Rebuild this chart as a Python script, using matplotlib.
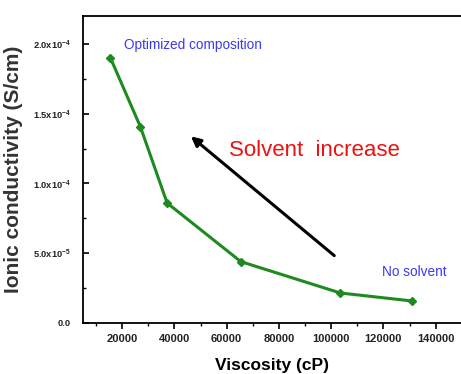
import matplotlib.pyplot as plt
from matplotlib.ticker import MultipleLocator, FuncFormatter

# Data
viscosity = [15500, 27000, 37200, 65400, 103500, 130800]
conductivity = [1.90e-4, 1.405e-4, 0.86e-4, 0.44e-4, 0.215e-4, 0.158e-4]

plt.rcParams['font.family'] = ['Liberation Sans', 'DejaVu Sans']
plt.rcParams['mathtext.fontset'] = 'custom'
plt.rcParams['mathtext.rm'] = 'Liberation Sans:bold'
plt.rcParams['mathtext.it'] = 'Liberation Sans:bold'
plt.rcParams['mathtext.bf'] = 'Liberation Sans:bold'

fig = plt.figure(figsize=(4.61, 3.74), dpi=100)
ax = fig.add_axes([0.180, 0.1364, 0.82, 0.8208])

ax.plot(viscosity, conductivity, color='#1f8a1f', lw=2.2, marker='D', ms=4.5)

ax.set_xlim(5000, 149700)
ax.set_ylim(0, 2.2e-4)
ax.spines['right'].set_visible(False)
for s in ['left', 'bottom', 'top']:
    ax.spines[s].set_linewidth(1.3)

ax.xaxis.set_major_locator(MultipleLocator(20000))
ax.xaxis.set_minor_locator(MultipleLocator(10000))
ax.yaxis.set_major_locator(MultipleLocator(5e-5))
ax.yaxis.set_minor_locator(MultipleLocator(2.5e-5))


def yfmt(v, pos):
    if v == 0:
        return '0.0'
    exp = int(f'{v:.1e}'.split('e')[1])
    mant = v / 10 ** exp
    return f'{mant:.1f}x10$^{{{exp}}}$'


ax.yaxis.set_major_formatter(FuncFormatter(yfmt))
ax.xaxis.set_major_formatter(FuncFormatter(lambda v, p: f'{int(v)}'))
ax.tick_params(axis='x', direction='out', length=4, width=1.2, labelsize=8, pad=4)
ax.tick_params(axis='x', which='minor', direction='out', length=2.5, width=1.0)
ax.tick_params(axis='y', direction='in', length=4, width=1.2, labelsize=6.7, pad=9)
ax.tick_params(axis='y', which='minor', direction='in', length=2.5, width=1.0)
ax.tick_params(top=False, right=False, which='both')
for lab in ax.get_xticklabels() + ax.get_yticklabels():
    lab.set_fontweight('bold')
    lab.set_color('#222222')

ax.set_xlabel('Viscosity (cP)', fontsize=12.5, fontweight='bold', labelpad=10)
ax.set_ylabel('Ionic conductivity (S/cm)', fontsize=15, fontweight='bold',
              color='#333333')
# the reference crops the left edge of this label a little
ax.yaxis.set_label_coords(-0.158, 0.5)

ax.text(20700, 1.99e-4, 'Optimized composition', color='#3a3af0', fontsize=9.8,
        va='center')
ax.text(119300, 0.366e-4, 'No solvent', color='#3a3af0', fontsize=9.8, va='center')
ax.text(60900, 1.235e-4, 'Solvent  increase', color='#ee1111', fontsize=16,
        va='center')
ax.annotate('', xy=(45500, 1.35e-4), xytext=(102000, 0.47e-4),
            arrowprops=dict(arrowstyle='-|>', color='black', lw=2.2, mutation_scale=14))

fig.savefig('out.png', dpi=100)
